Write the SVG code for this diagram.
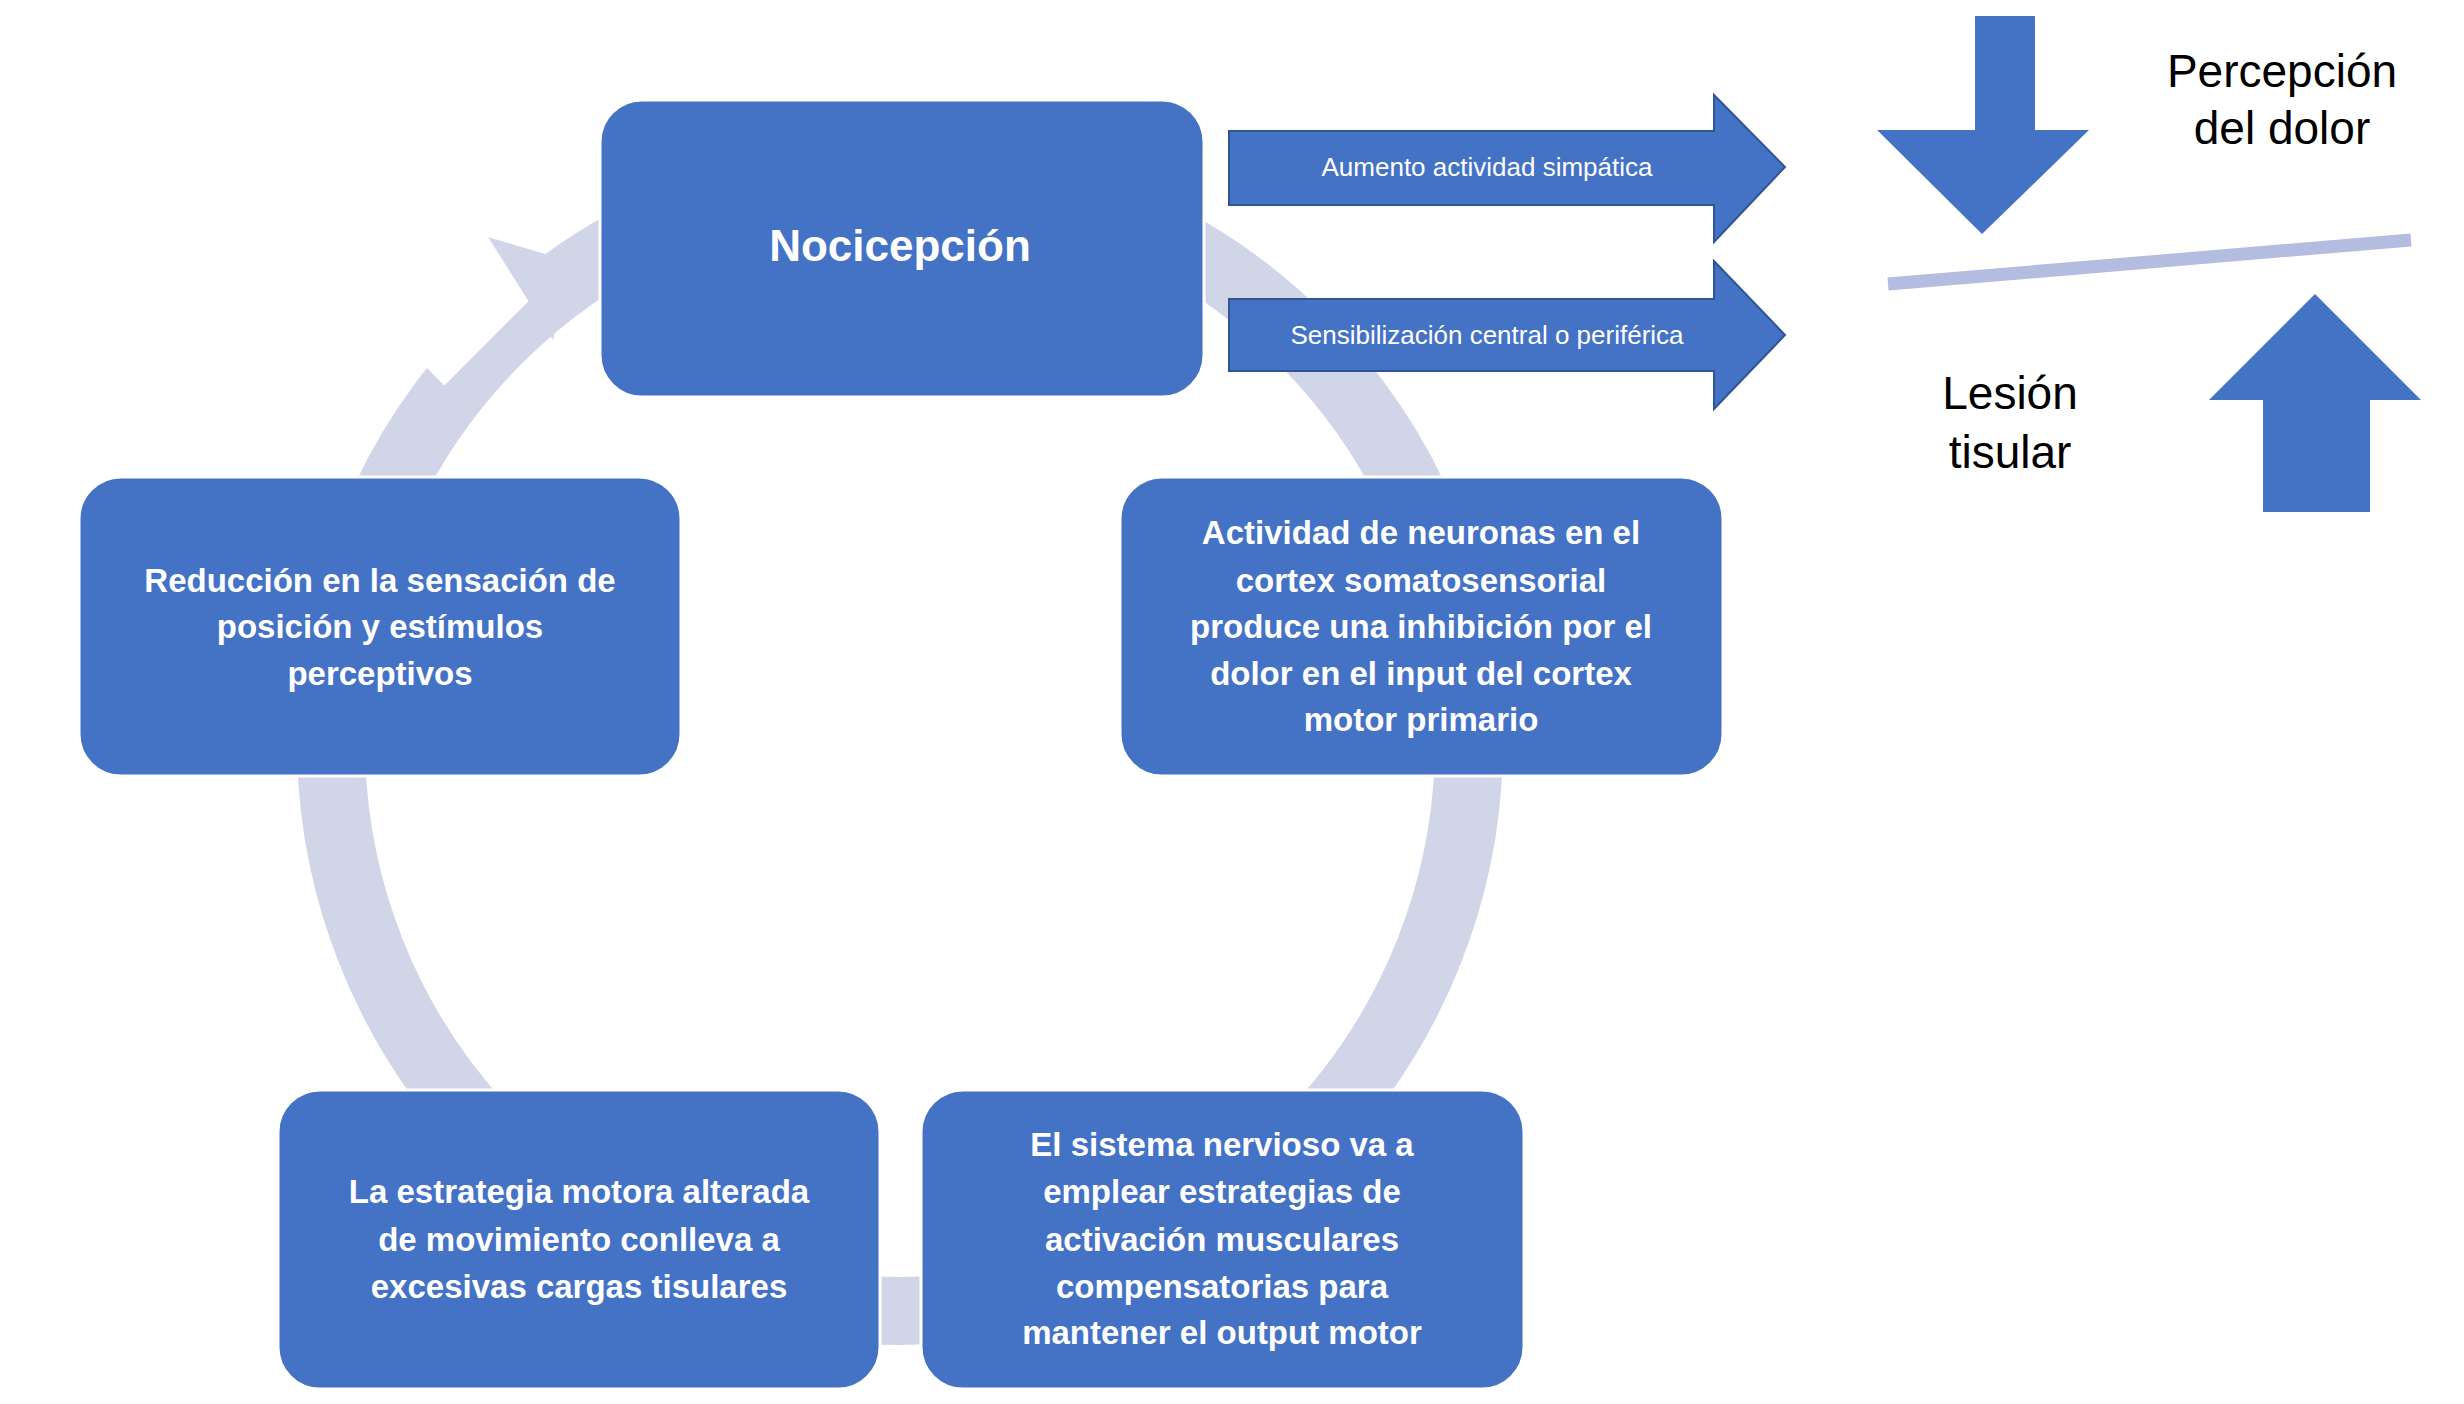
<svg xmlns="http://www.w3.org/2000/svg" width="2464" height="1404" viewBox="0 0 2464 1404">
<style>
.box{fill:#4472c4;stroke:#ffffff;stroke-width:3}
.bt{font-family:"Liberation Sans",Arial,sans-serif;font-weight:bold;font-size:33px;fill:#fff;text-anchor:middle;dominant-baseline:central}
.at{font-family:"Liberation Sans",Arial,sans-serif;font-size:26px;fill:#fff;text-anchor:middle;dominant-baseline:central}
.lt{font-family:"Liberation Sans",Arial,sans-serif;font-size:46px;fill:#000;text-anchor:middle;dominant-baseline:central}
.arr{fill:#4472c4;stroke:#2f5597;stroke-width:2}
</style>
<rect width="2464" height="1404" fill="#fff"/>
<g id="connectors">
<circle cx="900" cy="742" r="569" fill="none" stroke="#d0d5e8" stroke-width="68"/>
<rect x="380" y="230" width="150" height="120" fill="#fff" transform="rotate(-45 455 290)"/>
<polygon points="488,237 572,262 553,340" fill="#d0d5e8"/>
<polygon class="arr" points="1229,131 1714,131 1714,95 1785,167 1714,242 1714,205 1229,205"/>
<polygon class="arr" points="1229,299 1714,299 1714,261 1785,335 1714,409 1714,371 1229,371"/>
<polygon fill="#4472c4" points="1975,16 2035,16 2035,130 2089,130 1982,234 1877,130 1975,130"/>
<polygon fill="#4472c4" points="2263,512 2370,512 2370,400 2421,400 2315,294 2209,400 2263,400"/>
<line x1="1888" y1="284" x2="2411" y2="240" stroke="#b4bde0" stroke-width="13"/>
<text class="at" x="1487" y="167">Aumento actividad simpática</text>
<text class="at" x="1487" y="335">Sensibilización central o periférica</text>
<text class="lt" x="2282" y="71">Percepción</text>
<text class="lt" x="2282" y="128">del dolor</text>
<text class="lt" x="2010" y="393">Lesión</text>
<text class="lt" x="2010" y="452">tisular</text>
</g>
<g id="n1"><rect class="box" x="600" y="100" width="604" height="297" rx="42"/>
<text class="bt" x="900" y="245" style="font-size:44px">Nocicepción</text></g>
<g id="n2"><rect class="box" x="79" y="477" width="602" height="299" rx="42"/>
<text class="bt" x="380" y="580">Reducción en la sensación de</text>
<text class="bt" x="380" y="626">posición y estímulos</text>
<text class="bt" x="380" y="673">perceptivos</text></g>
<g id="n3"><rect class="box" x="1120" y="477" width="603" height="299" rx="42"/>
<text class="bt" x="1421" y="532">Actividad de neuronas en el</text>
<text class="bt" x="1421" y="580">cortex somatosensorial</text>
<text class="bt" x="1421" y="626">produce una inhibición por el</text>
<text class="bt" x="1421" y="673">dolor en el input del cortex</text>
<text class="bt" x="1421" y="719">motor primario</text></g>
<g id="n4"><rect class="box" x="278" y="1090" width="602" height="299" rx="42"/>
<text class="bt" x="579" y="1191">La estrategia motora alterada</text>
<text class="bt" x="579" y="1239">de movimiento conlleva a</text>
<text class="bt" x="579" y="1286">excesivas cargas tisulares</text></g>
<g id="n5"><rect class="box" x="921" y="1090" width="603" height="299" rx="42"/>
<text class="bt" x="1222" y="1144">El sistema nervioso va a</text>
<text class="bt" x="1222" y="1191">emplear estrategias de</text>
<text class="bt" x="1222" y="1239">activación musculares</text>
<text class="bt" x="1222" y="1286">compensatorias para</text>
<text class="bt" x="1222" y="1332">mantener el output motor</text></g>
</svg>
